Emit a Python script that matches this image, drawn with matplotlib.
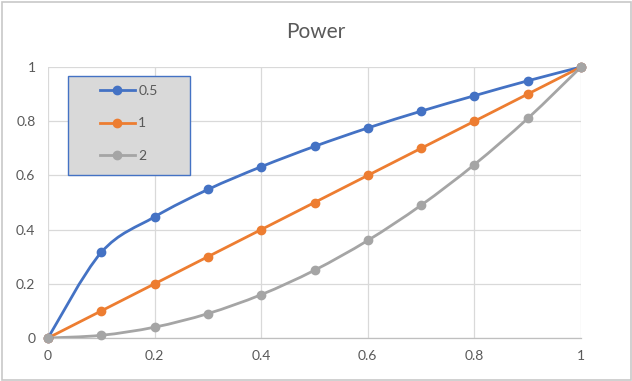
import numpy as np
import matplotlib
matplotlib.use("Agg")
import matplotlib.pyplot as plt
from matplotlib.path import Path
from matplotlib.patches import PathPatch, Rectangle
from matplotlib.lines import Line2D

# ---- data ----
x_vals = [0, 0.1, 0.2, 0.3, 0.4, 0.5, 0.6, 0.7, 0.8, 0.9, 1.0]
series_names = ["0.5", "1", "2"]
y_pow05 = [0, 0.316, 0.447, 0.548, 0.632, 0.707, 0.775, 0.837, 0.894, 0.949, 1.0]
y_pow1 = [0, 0.1, 0.2, 0.3, 0.4, 0.5, 0.6, 0.7, 0.8, 0.9, 1.0]
y_pow2 = [0, 0.01, 0.04, 0.09, 0.16, 0.25, 0.36, 0.49, 0.64, 0.81, 1.0]
x_ticks = [0, 0.2, 0.4, 0.6, 0.8, 1.0]
x_tick_labels = ["0", "0.2", "0.4", "0.6", "0.8", "1"]
y_ticks = [0, 0.2, 0.4, 0.6, 0.8, 1.0]
y_tick_labels = ["0", "0.2", "0.4", "0.6", "0.8", "1"]
title = "Power"

colors = ["#4472C4", "#ED7D31", "#A5A5A5"]
txt = "#595959"

plt.rcParams['font.family'] = ['Lato', 'DejaVu Sans']

fig = plt.figure(figsize=(6.32, 3.81), dpi=100)
ax = fig.add_axes([48/632, 43/381, 533/632, 271/381])


def smooth_path(xs, ys):
    pts = np.column_stack([xs, ys]).astype(float)
    verts = [pts[0]]
    codes = [Path.MOVETO]
    n = len(pts)
    for i in range(n - 1):
        p0 = pts[i - 1] if i > 0 else pts[i]
        p1 = pts[i]
        p2 = pts[i + 1]
        p3 = pts[i + 2] if i + 2 < n else pts[i + 1]
        c1 = p1 + (p2 - p0) / 6.0
        c2 = p2 - (p3 - p1) / 6.0
        verts += [c1, c2, p2]
        codes += [Path.CURVE4] * 3
    return Path(verts, codes)


handles = []
for ys, c, name in zip([y_pow05, y_pow1, y_pow2], colors, series_names):
    patch = PathPatch(smooth_path(x_vals, ys), fill=False, edgecolor=c,
                      lw=2.0, zorder=3, capstyle='round', joinstyle='round')
    ax.add_patch(patch)
    ax.plot(x_vals, ys, 'o', color=c, ms=6, zorder=3.1, clip_on=False)
    handles.append(Line2D([], [], color=c, lw=2.0, marker='o', ms=6))

ax.set_xlim(0, 1)
ax.set_ylim(0, 1)
ax.set_xticks(x_ticks)
ax.set_xticklabels(x_tick_labels)
ax.set_yticks(y_ticks)
ax.set_yticklabels(y_tick_labels)
ax.tick_params(length=0, labelsize=10, colors=txt)
ax.tick_params(axis='y', pad=9)
ax.tick_params(axis='x', pad=9)
ax.grid(True, color="#D9D9D9", lw=0.9, zorder=0)
ax.set_axisbelow(True)
for s in ['top', 'right', 'left']:
    ax.spines[s].set_visible(False)
ax.spines['bottom'].set_color("#BFBFBF")
ax.spines['bottom'].set_linewidth(0.9)

fig.text(0.5, 1 - 32/381, title, ha='center', va='center', fontsize=15, color=txt)

# legend box
ax.add_patch(Rectangle((0.0375, 0.601), 0.229, 0.366, transform=ax.transAxes,
                       facecolor="#D9D9D9", edgecolor="#4472C4", lw=1.0, zorder=4))
leg = ax.legend(handles, series_names, loc='upper left', bbox_to_anchor=(0.0976, 0.935),
                frameon=False, fontsize=10, labelspacing=1.5, handlelength=2.5,
                handletextpad=0.25, borderpad=0, borderaxespad=0)
leg.set_zorder(5)
for t in leg.get_texts():
    t.set_color(txt)

# outer border
fig.add_artist(Rectangle((1.5/632, 1.5/381), 629/632, 378/381, transform=fig.transFigure,
                         fill=False, edgecolor="#C8C8C8", lw=1.2))

fig.savefig("out.png", dpi=100)
